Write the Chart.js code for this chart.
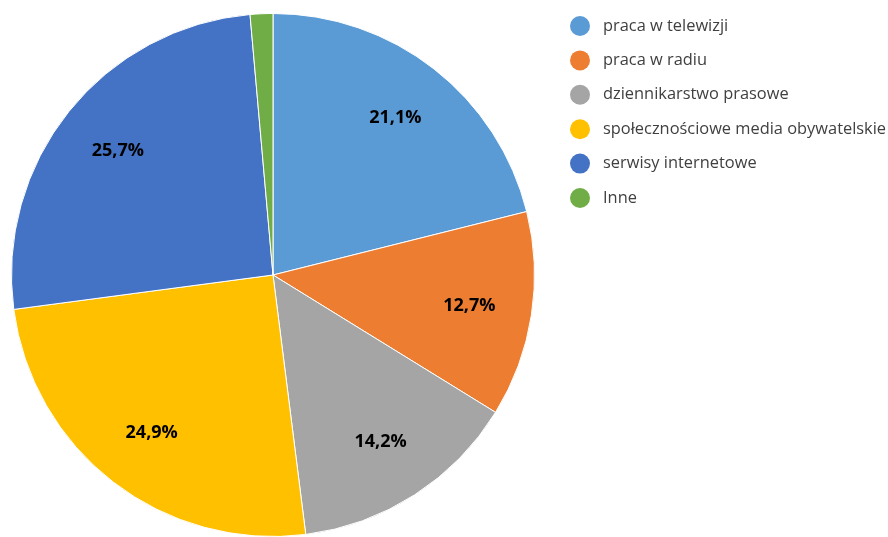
<!DOCTYPE html>
<html>
<head>
<meta charset="utf-8">
<script src="https://cdn.jsdelivr.net/npm/chart.js@4.4.0/dist/chart.umd.min.js"></script>
<style>
  html, body { margin: 0; padding: 0; background: #fff; }
  #wrap { width: 888px; height: 537px; position: relative; }
</style>
</head>
<body>
<div id="wrap"><canvas id="chart" width="888" height="537"></canvas></div>
<script>
const labels = ['praca w telewizji', 'praca w radiu', 'dziennikarstwo prasowe', 'społecznościowe media obywatelskie', 'serwisy internetowe', 'Inne'];
const values = [21.1, 12.7, 14.2, 24.9, 25.7, 1.4];
const colors = ['#5B9BD5', '#ED7D31', '#A5A5A5', '#FFC000', '#4472C4', '#70AD47'];
const hiddenLabels = ['Inne'];

// percent labels inside slices
const sliceLabels = {
  id: 'sliceLabels',
  afterDatasetsDraw(chart) {
    const ctx = chart.ctx;
    const meta = chart.getDatasetMeta(0);
    ctx.save();
    ctx.font = 'bold 18px "Open Sans", sans-serif';
    ctx.fillStyle = '#000';
    ctx.textAlign = 'center';
    ctx.textBaseline = 'middle';
    meta.data.forEach((arc, i) => {
      if (hiddenLabels.includes(labels[i])) return;
      const p = arc.getProps(['x', 'y', 'startAngle', 'endAngle', 'outerRadius'], true);
      const a = (p.startAngle + p.endAngle) / 2;
      const r = p.outerRadius * 0.76;
      ctx.fillText(values[i].toFixed(1).replace('.', ',') + '%', p.x + Math.cos(a) * r, p.y + Math.sin(a) * r);
    });
    ctx.restore();
  }
};

// legend on the right, drawn by hand
const sideLegend = {
  id: 'sideLegend',
  afterDraw(chart) {
    const ctx = chart.ctx;
    ctx.save();
    ctx.font = '16.4px "Open Sans", sans-serif';
    ctx.textBaseline = 'middle';
    labels.forEach((l, i) => {
      const y = 26 + i * 34.4;
      ctx.fillStyle = colors[i];
      ctx.beginPath();
      ctx.arc(580, y, 10, 0, Math.PI * 2);
      ctx.fill();
      ctx.fillStyle = '#404040';
      ctx.fillText(l, 603, y);
    });
    ctx.restore();
  }
};

new Chart(document.getElementById('chart'), {
  type: 'pie',
  data: {
    labels: labels,
    datasets: [{
      data: values,
      backgroundColor: colors,
      borderColor: '#ffffff',
      borderWidth: 1
    }]
  },
  options: {
    responsive: false,
    animation: false,
    layout: { padding: { left: 9, top: 13, right: 351, bottom: 0 } },
    plugins: {
      legend: { display: false },
      tooltip: { enabled: false }
    }
  },
  plugins: [sliceLabels, sideLegend]
});
</script>
</body>
</html>
